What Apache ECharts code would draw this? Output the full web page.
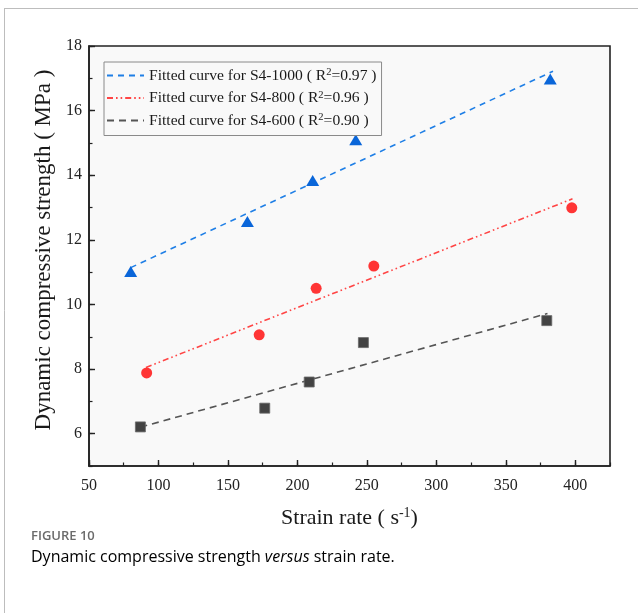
<!DOCTYPE html>
<html>
<head>
<meta charset="utf-8">
<script src="https://cdn.jsdelivr.net/npm/echarts@6/dist/echarts.min.js"></script>
<style>
  html, body { margin: 0; padding: 0; background: #ffffff; }
  #chart { width: 638px; height: 613px; }
</style>
</head>
<body>
<div id="chart"></div>
<script>
// Measured strain rate (1/s) and dynamic compressive strength (MPa)
const rate1000 = [80, 164, 211, 242, 382];
const strength1000 = [11.02, 12.57, 13.84, 15.1, 16.98];
const rate800 = [91.5, 172.5, 213.5, 255, 397.5];
const strength800 = [7.88, 9.06, 10.5, 11.19, 12.99];
const rate600 = [87, 176.5, 208.5, 247.5, 379.5];
const strength600 = [6.21, 6.79, 7.6, 8.82, 9.5];

// Fitted straight lines: [start, end] points
const fit1000 = [[80, 11.14], [384, 17.22]];
const fit800 = [[91, 8.05], [398, 13.27]];
const fit600 = [[87, 6.2], [380, 9.72]];

const groups = ['S4-1000', 'S4-800', 'S4-600'];
const rSquared = ['0.97', '0.96', '0.90'];

const xTicks = [50, 100, 150, 200, 250, 300, 350, 400];
const yTicks = [6, 8, 10, 12, 14, 16, 18];

const serif = '"Liberation Serif", "Times New Roman", serif';
const pairs = (xs, ys) => xs.map((x, i) => [x, ys[i]]);

const chart = echarts.init(document.getElementById('chart'), null, { renderer: 'canvas' });

const fitName = g => 'Fitted curve for ' + g;

chart.setOption({
  animation: false,
  backgroundColor: '#ffffff',
  grid: {
    left: 89, top: 46, right: 28, bottom: 147,
    show: true, backgroundColor: '#f9f9f9',
    borderColor: '#222', borderWidth: 1.6
  },
  legend: {
    data: groups.map(fitName),
    orient: 'vertical',
    left: 104, top: 62,
    padding: [5, 5, 7, 2],
    itemGap: 6,
    itemWidth: 37, itemHeight: 14,
    borderColor: '#8a8a8a', borderWidth: 1,
    backgroundColor: '#f9f9f9',
    selectedMode: false,
    itemStyle: { opacity: 0, borderWidth: 0 },
    formatter: name => {
      const i = groups.map(fitName).indexOf(name);
      return '{t|' + name + ' ( R}{s|2}{t|=' + rSquared[i] + ' )}';
    },
    textStyle: {
      rich: {
        t: { fontFamily: serif, fontSize: 15.6, color: '#1a1a1a', lineHeight: 17 },
        s: { fontFamily: serif, fontSize: 10.5, color: '#1a1a1a', verticalAlign: 'top', lineHeight: 12, padding: [0, 0, 5, 0] }
      }
    }
  },
  xAxis: [{
    type: 'value', min: 50, max: 425,
    name: '{t|Strain rate ( s}{s|-1}{t|)}',
    nameLocation: 'middle', nameGap: 40,
    nameTextStyle: {
      rich: {
        t: { fontFamily: serif, fontSize: 22, color: '#1a1a1a' },
        s: { fontFamily: serif, fontSize: 14, color: '#1a1a1a', verticalAlign: 'top', padding: [0, 0, 11, 0] }
      }
    },
    axisLine: { show: true, lineStyle: { color: '#222', width: 1.6 } },
    axisTick: { show: true, inside: true, length: 6, customValues: xTicks, lineStyle: { color: '#222', width: 1.4 } },
    axisLabel: { customValues: xTicks, margin: 12, fontFamily: serif, fontSize: 16, color: '#222' },
    splitLine: { show: false }
  }, {
    // minor ticks every 25
    type: 'value', min: 50, max: 425, interval: 25, position: 'bottom',
    axisLine: { show: false },
    axisTick: { show: true, inside: true, length: 3.5, lineStyle: { color: '#222', width: 1.2 } },
    axisLabel: { show: false },
    splitLine: { show: false }
  }],
  yAxis: [{
    type: 'value', min: 5, max: 18,
    name: 'Dynamic compressive strength ( MPa )',
    nameLocation: 'middle', nameGap: 31,
    nameTextStyle: { fontFamily: serif, fontSize: 23, color: '#1a1a1a', padding: [0, 0, 0, 12] },
    axisLine: { show: true, lineStyle: { color: '#222', width: 1.6 } },
    axisTick: { show: true, inside: true, length: 6, customValues: yTicks, lineStyle: { color: '#222', width: 1.4 } },
    axisLabel: { customValues: yTicks, margin: 7, fontFamily: serif, fontSize: 16, color: '#222' },
    splitLine: { show: false }
  }, {
    // minor ticks every 1 MPa
    type: 'value', min: 5, max: 18, interval: 1, position: 'left',
    axisLine: { show: false },
    axisTick: { show: true, inside: true, length: 3.5, lineStyle: { color: '#222', width: 1.2 } },
    axisLabel: { show: false },
    splitLine: { show: false }
  }],
  series: [
    {
      name: fitName('S4-1000'), type: 'line', data: fit1000, symbol: 'none',
      lineStyle: { color: '#1f7fe6', width: 1.6, type: [6, 5] },
      itemStyle: { color: '#1f7fe6' }, z: 2
    },
    {
      name: fitName('S4-800'), type: 'line', data: fit800, symbol: 'none',
      lineStyle: { color: '#ff4545', width: 1.6, type: [6, 3, 1.6, 3, 1.6, 3] },
      itemStyle: { color: '#ff4545' }, z: 2
    },
    {
      name: fitName('S4-600'), type: 'line', data: fit600, symbol: 'none',
      lineStyle: { color: '#555555', width: 1.6, type: [7, 5] },
      itemStyle: { color: '#555555' }, z: 2
    },
    {
      name: 'S4-1000', type: 'scatter', data: pairs(rate1000, strength1000),
      symbol: 'triangle', symbolSize: [13, 11],
      itemStyle: { color: '#0a66d9', opacity: 1 }, z: 3
    },
    {
      name: 'S4-800', type: 'scatter', data: pairs(rate800, strength800),
      symbol: 'circle', symbolSize: 11,
      itemStyle: { color: '#ff3535', opacity: 1 }, z: 3
    },
    {
      name: 'S4-600', type: 'scatter', data: pairs(rate600, strength600),
      symbol: 'rect', symbolSize: 10,
      itemStyle: { color: '#434343', borderColor: '#6a6a6a', borderWidth: 0.8, opacity: 1 }, z: 3
    }
  ],
  graphic: [
    { type: 'line', shape: { x1: 4.5, y1: 8, x2: 4.5, y2: 613 }, style: { stroke: '#bdbdbd', lineWidth: 1 } },
    { type: 'line', shape: { x1: 4, y1: 8.5, x2: 638, y2: 8.5 }, style: { stroke: '#bdbdbd', lineWidth: 1 } },
    {
      type: 'text', left: 31, top: 530,
      style: { text: 'FIGURE 10', font: '600 13px "Open Sans", sans-serif', fill: '#6b6b6b' }
    },
    {
      type: 'text', left: 31, top: 549,
      style: {
        text: '{n|Dynamic compressive strength }{i|versus}{n| strain rate.}',
        rich: {
          n: { fontFamily: '"Open Sans", sans-serif', fontSize: 16, color: '#555555' },
          i: { fontFamily: '"Open Sans", sans-serif', fontSize: 16, fontStyle: 'italic', color: '#555555' }
        }
      }
    }
  ]
});
</script>
</body>
</html>
